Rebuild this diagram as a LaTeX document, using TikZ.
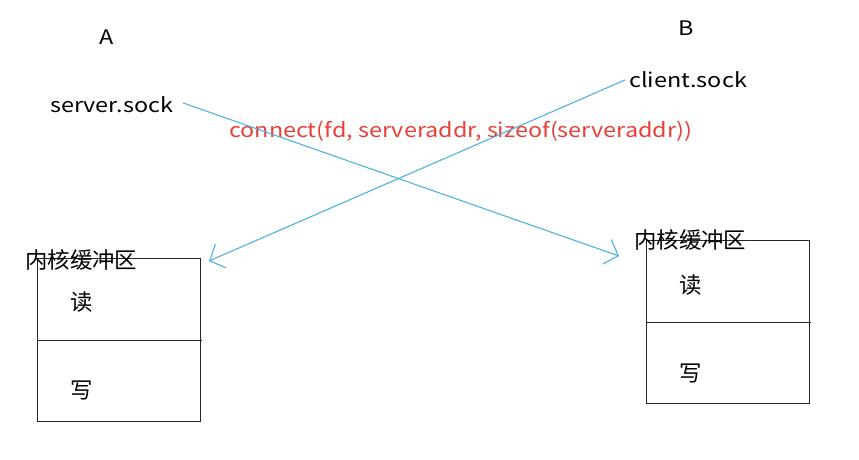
\documentclass[tikz,border=0pt]{standalone}
\usepackage{fontspec}
\setmainfont{Noto Sans CJK SC}
\newfontfamily\latinwide[FakeStretch=1.17]{Noto Sans CJK SC}
\usetikzlibrary{arrows.meta}
\definecolor{lineblue}{RGB}{80,178,228}
\definecolor{txtred}{RGB}{232,64,56}
\tikzset{
  lbl/.style={inner sep=0pt, font=\latinwide\fontsize{20}{20}\selectfont},
  cjk/.style={inner sep=0pt, font=\fontsize{22.4}{22.4}\selectfont},
  bufbox/.style={draw=black!85, line width=1pt, minimum width=163pt, minimum height=163pt, inner sep=0pt},
  conn/.style={draw=lineblue, line width=1.1pt, -{Straight Barb[length=12pt,width=26pt,line width=1.1pt]}}
}
\begin{document}
\begin{tikzpicture}[x=1pt,y=-1pt]
\useasboundingbox[fill=white] (0,0) rectangle (859,459);
\node[lbl] (A) at (107,37) {A};
\node[lbl] (B) at (686,28) {B};
\node[lbl, anchor=west] (ss) at (50,105) {server.sock};
\node[lbl, anchor=west] (cs) at (629,80) {client.sock};
\node[lbl, anchor=west, text=txtred] (call) at (229,131) {connect(fd, serveraddr, sizeof(serveraddr))};
% left buffer
\node[bufbox] (lbox) at (118.5,340) {};
\draw[black!85, line width=1pt] (lbox.west) -- ([xshift=1pt]lbox.east);
\node[cjk, anchor=west] (lk) at (25,260) {内核缓冲区};
\node[cjk] (lr) at (82,302) {读};
\node[cjk] (lw) at (82,390) {写};
% right buffer
\node[bufbox] (rbox) at (728,322) {};
\draw[black!85, line width=1pt] (rbox.west) -- ([xshift=1pt]rbox.east);
\node[cjk, anchor=west] (rk) at (634,240) {内核缓冲区};
\node[cjk] (rr) at (691,285) {读};
\node[cjk] (rw) at (691,373) {写};
% connectors
\coordinate (rtip) at (619,256);
\coordinate (ltip) at (209,261);
\draw[conn] ([xshift=10pt,yshift=2pt]ss.east) -- (rtip);
\draw[conn] ([xshift=-4pt,yshift=0pt]cs.west) -- (ltip);
\end{tikzpicture}
\end{document}
